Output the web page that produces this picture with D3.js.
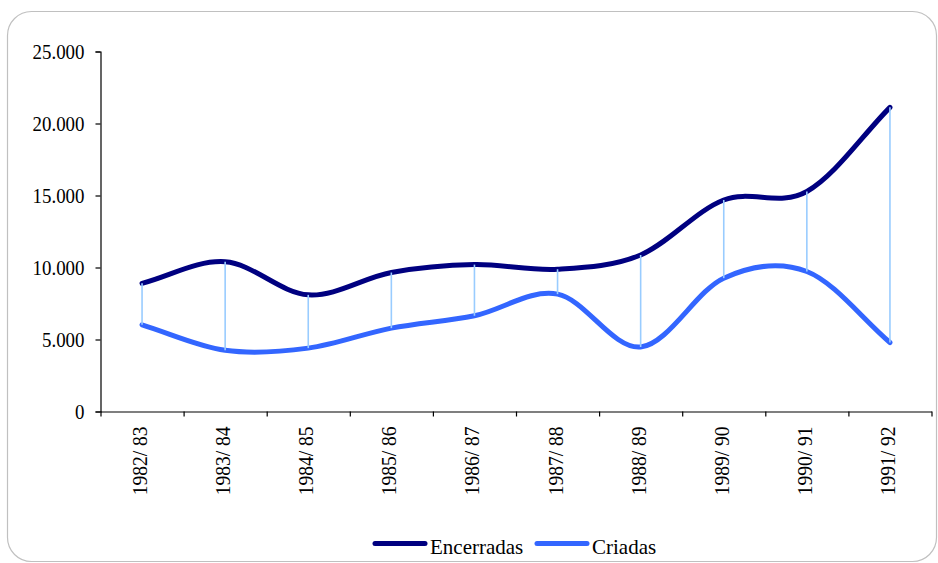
<!DOCTYPE html>
<html>
<head>
<meta charset="utf-8">
<script src="https://cdn.jsdelivr.net/npm/d3@7"></script>
<style>
  html, body { margin: 0; padding: 0; background: #ffffff; }
  svg { display: block; }
  text { font-family: "Liberation Serif", "Times New Roman", serif; fill: #000; }
</style>
</head>
<body>
<svg id="chart" width="938" height="563"></svg>
<script>
// ---- data ----
const categories = ["1982/ 83", "1983/ 84", "1984/ 85", "1985/ 86", "1986/ 87",
                    "1987/ 88", "1988/ 89", "1989/ 90", "1990/ 91", "1991/ 92"];
const encerradas = [8900, 10400, 8100, 9650, 10200, 9880, 10870, 14690, 15280, 21120];
const criadas    = [6020, 4250, 4400, 5790, 6650, 8150, 4480, 9260, 9720, 4790];
const yTicks = [0, 5000, 10000, 15000, 20000, 25000];
const seriesNames = ["Encerradas", "Criadas"];
const seriesColors = ["#000080", "#3366FF"];

// ---- smoothed curve (Catmull-Rom interior, chord tangents at ends) ----
function SmoothCurve(context) { this._context = context; }
SmoothCurve.prototype = {
  areaStart() { this._line = 0; },
  areaEnd() { this._line = NaN; },
  lineStart() { this._x = []; this._y = []; },
  point(px, py) { this._x.push(+px); this._y.push(+py); },
  lineEnd() {
    const X = this._x, Y = this._y, n = X.length, c = this._context;
    if (n) {
      c.moveTo(X[0], Y[0]);
      if (n === 2) c.lineTo(X[1], Y[1]);
      else if (n > 2) {
        const tx = [], ty = [];
        for (let i = 0; i < n; i++) {
          if (i === 0) { tx.push(X[1] - X[0]); ty.push(Y[1] - Y[0]); }
          else if (i === n - 1) { tx.push(X[n - 1] - X[n - 2]); ty.push(Y[n - 1] - Y[n - 2]); }
          else { tx.push((X[i + 1] - X[i - 1]) / 2); ty.push((Y[i + 1] - Y[i - 1]) / 2); }
        }
        for (let i = 0; i < n - 1; i++) {
          c.bezierCurveTo(X[i] + tx[i] / 3, Y[i] + ty[i] / 3,
                          X[i + 1] - tx[i + 1] / 3, Y[i + 1] - ty[i + 1] / 3,
                          X[i + 1], Y[i + 1]);
        }
      }
    }
    this._line = 1 - this._line;
  }
};
const curveSmooth = ctx => new SmoothCurve(ctx);

// ---- layout ----
const svg = d3.select("#chart");
const plotLeft = 100.5, plotRight = 931.5, plotTop = 51.5, plotBottom = 411.5;

// frame
svg.append("rect")
  .attr("x", 7.5).attr("y", 11.5)
  .attr("width", 929).attr("height", 550)
  .attr("rx", 24).attr("ry", 24)
  .attr("fill", "#ffffff")
  .attr("stroke", "#c0c0c0")
  .attr("stroke-width", 1.2);

const x = d3.scaleBand().domain(categories).range([plotLeft, plotRight]).padding(0);
const xb = d3.scaleLinear().domain([0, categories.length]).range([plotLeft, plotRight]);
const y = d3.scaleLinear().domain([0, 25000]).range([plotBottom, plotTop]);
const cx = c => x(c) + x.bandwidth() / 2;

const locale = d3.formatLocale({ decimal: ",", thousands: ".", grouping: [3], currency: ["", ""] });
const fmt = locale.format(",d");

// y axis
const yAxis = svg.append("g")
  .attr("transform", `translate(${plotLeft},0)`)
  .call(d3.axisLeft(y).tickValues(yTicks).tickFormat(fmt).tickSize(5).tickPadding(11));
yAxis.select(".domain").attr("stroke", "#000").attr("stroke-width", 1.2);
yAxis.selectAll(".tick line").attr("stroke", "#000").attr("stroke-width", 1.2);
yAxis.selectAll(".tick text")
  .attr("font-size", 21)
  .attr("font-family", "Liberation Serif")
  .attr("dy", "0.35em")
  .each(function() {
    const t = d3.select(this);
    const xx = +t.attr("x");
    t.attr("x", null).attr("transform", `translate(${xx},0) scale(0.9,1)`);
  });

// x axis tick marks (at band boundaries)
const xTickAxis = svg.append("g")
  .attr("transform", `translate(0,${plotBottom})`)
  .call(d3.axisBottom(xb).tickValues(d3.range(0, categories.length + 1)).tickFormat("").tickSize(5).tickSizeOuter(0));
xTickAxis.select(".domain").attr("stroke", "#000").attr("stroke-width", 1.2);
xTickAxis.selectAll(".tick line").attr("stroke", "#000").attr("stroke-width", 1.2);

// x axis labels
const xLabelAxis = svg.append("g")
  .attr("transform", `translate(0,${plotBottom})`)
  .call(d3.axisBottom(x).tickSize(0).tickPadding(0));
xLabelAxis.select(".domain").remove();
xLabelAxis.selectAll(".tick text")
  .attr("font-size", 21)
  .attr("font-family", "Liberation Serif")
  .attr("text-anchor", "end")
  .attr("y", null).attr("dy", null)
  .attr("transform", "translate(5,15) rotate(-90) scale(0.93,1)");

// series lines
const line = d3.line()
  .x((d, i) => cx(categories[i]))
  .y(d => y(d))
  .curve(curveSmooth);

[encerradas, criadas].forEach((vals, k) => {
  svg.append("path")
    .datum(vals)
    .attr("d", line)
    .attr("fill", "none")
    .attr("stroke", seriesColors[k])
    .attr("stroke-width", 5)
    .attr("stroke-linejoin", "round")
    .attr("stroke-linecap", "round");
});

// high-low lines
svg.append("g").selectAll("line")
  .data(categories)
  .join("line")
  .attr("x1", d => cx(d)).attr("x2", d => cx(d))
  .attr("y1", (d, i) => y(encerradas[i]))
  .attr("y2", (d, i) => y(criadas[i]))
  .attr("stroke", "#99CCFF")
  .attr("stroke-width", 1.6);

// legend
const legendItems = [
  { name: seriesNames[0], color: seriesColors[0], x0: 375, tx: 430 },
  { name: seriesNames[1], color: seriesColors[1], x0: 537, tx: 592 }
];
const lg = svg.append("g");
legendItems.forEach(it => {
  lg.append("line")
    .attr("x1", it.x0).attr("x2", it.x0 + 50)
    .attr("y1", 543.5).attr("y2", 543.5)
    .attr("stroke", it.color)
    .attr("stroke-width", 5)
    .attr("stroke-linecap", "round");
  lg.append("text")
    .attr("x", it.tx).attr("y", 554)
    .attr("font-size", 21)
    .text(it.name);
});
</script>
</body>
</html>
